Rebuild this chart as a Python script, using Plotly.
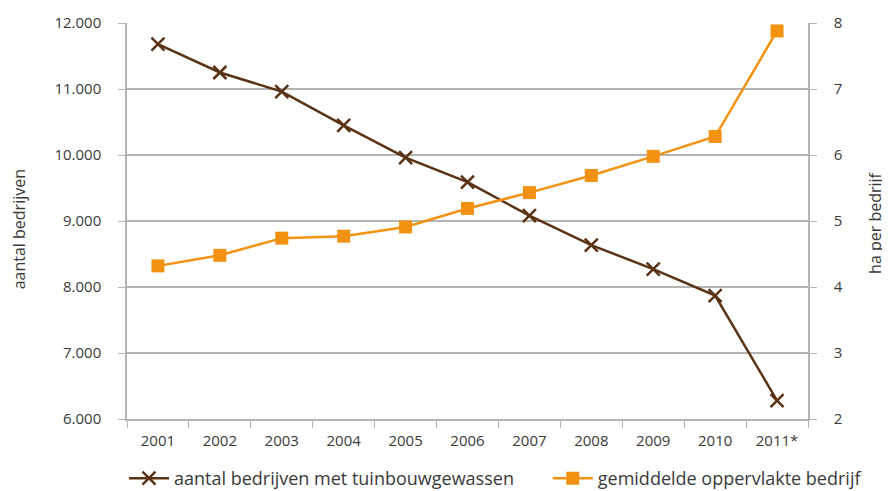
import plotly.graph_objects as go

years = ["2001", "2002", "2003", "2004", "2005", "2006", "2007", "2008", "2009", "2010", "2011*"]
aantal_bedrijven = [11680, 11250, 10960, 10450, 9960, 9590, 9080, 8635, 8270, 7870, 6280]
gem_oppervlakte = [4.32, 4.48, 4.74, 4.77, 4.91, 5.19, 5.43, 5.69, 5.98, 6.28, 7.88]

brown = "#5a3214"
orange = "#f39212"
grid = "#b4b4b4"
text = "#3a3a3a"
font = "Open Sans"

fig = go.Figure()
fig.add_trace(go.Scatter(
    x=years, y=aantal_bedrijven, name="aantal bedrijven met tuinbouwgewassen",
    mode="lines+markers",
    line=dict(color=brown, width=2.5),
    marker=dict(symbol="x-thin", size=13, line=dict(color=brown, width=2.5), color=brown),
    yaxis="y", legend="legend",
))
fig.add_trace(go.Scatter(
    x=years, y=gem_oppervlakte, name="gemiddelde oppervlakte bedrijf",
    mode="lines+markers",
    line=dict(color=orange, width=2.5),
    marker=dict(symbol="square", size=13, color=orange),
    yaxis="y2", legend="legend2",
))

leg_common = dict(orientation="h", xref="container", yref="container",
                  xanchor="left", y=0.026, yanchor="middle",
                  font=dict(size=18, color=text), itemwidth=40,
                  borderwidth=0, bgcolor="rgba(0,0,0,0)")

# page body adds an 8px offset; figure is sized/positioned to compensate
fig.update_layout(
    width=882, height=483,
    margin=dict(l=119, r=82, t=15, b=72),
    paper_bgcolor="white", plot_bgcolor="white",
    separators=",.",
    font=dict(family=font, size=15, color=text),
    showlegend=True,
    legend=dict(x=0.1315, **leg_common),
    legend2=dict(x=0.612, **leg_common),
    xaxis=dict(
        type="category", range=[-0.5, 10.5], tickson="boundaries", automargin=False,
        ticks="outside", ticklen=7, tickcolor=grid, showline=True, linecolor=grid, linewidth=1.5,
        showgrid=False, tickfont=dict(size=15, color=text), fixedrange=True,
        ticklabelstandoff=7,
    ),
    yaxis=dict(
        range=[6000, 12000], dtick=1000, tickformat=",d", automargin=False,
        ticks="outside", ticklen=7, tickcolor=grid, showline=True, linecolor=grid, linewidth=1.5,
        showgrid=True, gridcolor=grid, gridwidth=1.5, zeroline=False,
        tickfont=dict(size=15, color=text), ticklabelstandoff=14,
    ),
    yaxis2=dict(
        range=[2, 8], dtick=1, overlaying="y", side="right", automargin=False,
        ticks="outside", ticklen=7, tickcolor=grid, showline=True, linecolor=grid, linewidth=1.5,
        showgrid=False, zeroline=False,
        tickfont=dict(size=15, color=text), ticklabelstandoff=14,
    ),
    annotations=[
        dict(text="aantal bedrijven", xref="paper", yref="paper", x=-0.158, y=0.48,
             xanchor="center", yanchor="middle", textangle=-90, showarrow=False,
             font=dict(size=16, color=text)),
        dict(text="ha per bedrijf", xref="paper", yref="paper", x=1.098, y=0.497,
             xanchor="center", yanchor="middle", textangle=-90, showarrow=False,
             font=dict(size=16, color=text)),
    ],
)

fig.write_html("out.html")
